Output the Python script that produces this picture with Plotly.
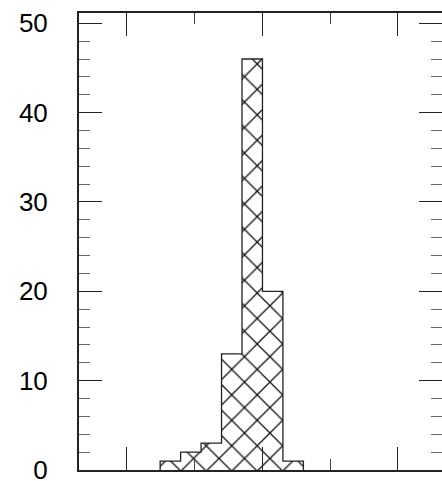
import plotly.graph_objects as go

# Histogram bin edges and counts
bin_edges = [1.245, 1.396, 1.547, 1.698, 1.849, 2.0, 2.151, 2.302]
counts = [1, 2, 3, 13, 46, 20, 1]

# Axis settings
x_range = [0.646, 3.325]
x_major = [1, 2, 3]
x_minor_vals = [1.5, 2.5]
y_range = [0, 51.15]
y_tickvals = [0, 10, 20, 30, 40, 50]

centers = [(a + b) / 2 for a, b in zip(bin_edges[:-1], bin_edges[1:])]
widths = [b - a for a, b in zip(bin_edges[:-1], bin_edges[1:])]

# Stair outline of the histogram (no internal bin separators)
step_x = [bin_edges[0]]
step_y = [0]
for i, c in enumerate(counts):
    step_x += [bin_edges[i], bin_edges[i + 1]]
    step_y += [c, c]
step_x.append(bin_edges[-1])
step_y.append(0)

fig = go.Figure()
fig.add_trace(go.Bar(
    x=centers,
    y=counts,
    width=widths,
    marker=dict(
        color="white",
        line=dict(width=0),
        pattern=dict(shape="x", size=18, solidity=0.14,
                     fgcolor="#111111", bgcolor="white", fillmode="replace"),
    ),
    showlegend=False,
    hoverinfo="skip",
))
# outline drawn on the top/right axes pair (same ranges) so those get tick marks
fig.add_trace(go.Scatter(
    x=step_x, y=step_y, mode="lines",
    xaxis="x2", yaxis="y2",
    line=dict(color="#222222", width=1.3),
    showlegend=False, hoverinfo="skip",
))

major = dict(ticks="inside", ticklen=23, tickcolor="#222222", tickwidth=1)
x_minor = dict(ticks="inside", ticklen=11, tickvals=x_minor_vals,
               tickcolor="#444444", tickwidth=1, showgrid=False)
y_minor = dict(ticks="inside", ticklen=11, dtick=2, tick0=0,
               tickcolor="#666666", tickwidth=1, showgrid=False)

fig.update_layout(
    width=442, height=481,
    margin=dict(l=79, r=0, t=13, b=11),
    paper_bgcolor="white", plot_bgcolor="white",
    bargap=0,
    font=dict(family="Liberation Sans, Arial, sans-serif", size=26, color="black"),
    xaxis=dict(
        range=x_range, showgrid=False, zeroline=False, automargin=False,
        showline=True, linecolor="#222222", linewidth=2,
        tickvals=x_major, showticklabels=False, minor=x_minor, **major,
    ),
    yaxis=dict(
        range=y_range, showgrid=False, zeroline=False, automargin=False,
        showline=True, linecolor="#222222", linewidth=2,
        tickvals=y_tickvals, ticklabelstandoff=24, ticklabeloverflow="allow",
        minor=y_minor, **major,
    ),
    xaxis2=dict(
        overlaying="x", side="top", anchor="y2",
        range=x_range, showgrid=False, zeroline=False, automargin=False,
        showline=True, linecolor="#222222", linewidth=2,
        tickvals=x_major, showticklabels=False, minor=x_minor, **major,
    ),
    yaxis2=dict(
        overlaying="y", side="right", anchor="x2",
        range=y_range, showgrid=False, zeroline=False, automargin=False,
        showline=False,
        tickvals=y_tickvals, showticklabels=False, minor=y_minor, **major,
    ),
)

fig.write_html("out.html")
